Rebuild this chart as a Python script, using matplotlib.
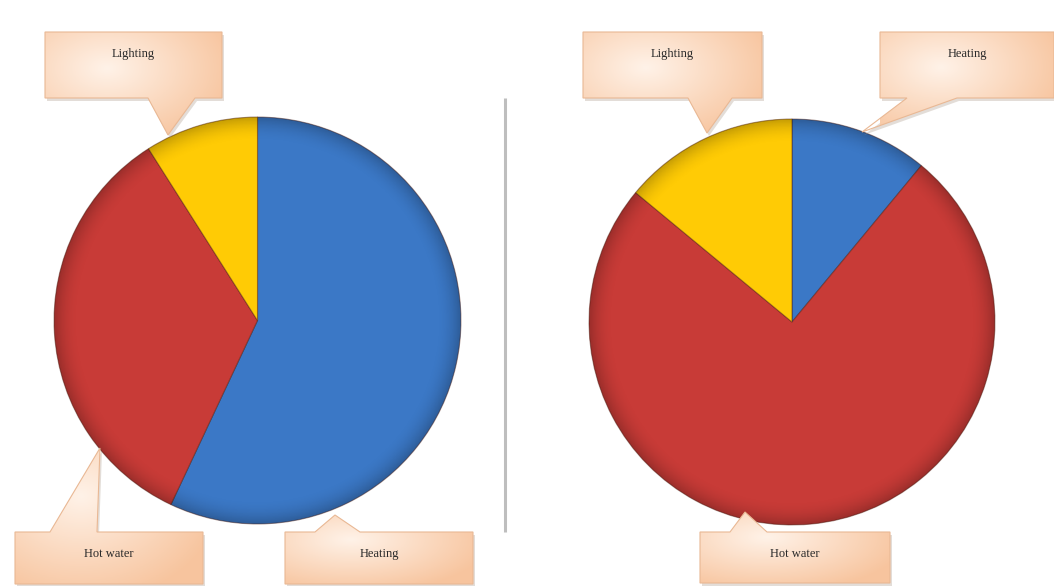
import numpy as np
import matplotlib
matplotlib.use("Agg")
import matplotlib.pyplot as plt
from matplotlib.patches import Polygon, Circle

# energy use shares, before (left) and after (right)
labels = ["Heating", "Hot water", "Lighting"]
before = [57, 34, 9]
after = [11, 75, 14]
colors = ["#3B78C6", "#C83B37", "#FFCB05"]

W, H = 1054, 586
fig = plt.figure(figsize=(W / 100, H / 100), dpi=100)
fig.patch.set_facecolor("white")


def pie_axes(x0, y0, size):
    # pixel box (top-left origin) -> figure fraction
    return fig.add_axes([x0 / W, (H - y0 - size) / H, size / W, size / H])


def shaded_pie(ax, values):
    wedges, _ = ax.pie(values, colors=colors, startangle=90, counterclock=False,
                       radius=1, wedgeprops=dict(edgecolor=(0.3, 0.1, 0.05, 0.45),
                                                 linewidth=0.8))
    # darker rim for a bevelled look
    n = 300
    g = np.linspace(-1, 1, n)
    xx, yy = np.meshgrid(g, g)
    r = np.sqrt(xx ** 2 + yy ** 2)
    img = np.zeros((n, n, 4))
    img[..., 3] = np.clip((r - 0.88) / 0.12, 0, 1) ** 2 * 0.22
    im = ax.imshow(img, extent=(-1, 1, -1, 1), origin="lower", zorder=3)
    im.set_clip_path(Circle((0, 0), 1, transform=ax.transData))
    ax.set_xlim(-1.01, 1.01)
    ax.set_ylim(-1.01, 1.01)
    ax.set_aspect("equal")
    ax.axis("off")
    return wedges


ax1 = pie_axes(52, 115, 411)
shaded_pie(ax1, before)
ax2 = pie_axes(587, 117, 410)
shaded_pie(ax2, after)

# overlay in pixel coordinates for the callouts and divider
ov = fig.add_axes([0, 0, 1, 1], zorder=5)
ov.set_xlim(0, W)
ov.set_ylim(H, 0)
ov.axis("off")
ov.patch.set_alpha(0)

ov.plot([505, 505], [98, 532], color="#BEBEBE", lw=2.2, solid_capstyle="butt")

# peach gradient used for callout fills
gx = np.linspace(0, 1, 120)
gy = np.linspace(0, 1, 60)
GX, GY = np.meshgrid(gx, gy)
d = np.clip(np.sqrt(((GX - 0.35) / 0.75) ** 2 + ((GY - 0.35) / 0.8) ** 2), 0, 1)
light = np.array([1.0, 0.95, 0.91])
dark = np.array([0.97, 0.77, 0.62])
grad = light[None, None, :] * (1 - d[..., None]) + dark[None, None, :] * d[..., None]


def callout(text, box, base, tip, text_y):
    x0, y0, x1, y1 = box
    bx0, bx1 = base
    if tip[1] > y1:
        pts = [(x0, y0), (x1, y0), (x1, y1), (bx1, y1), tip, (bx0, y1), (x0, y1)]
    else:
        pts = [(x0, y0), (bx0, y0), tip, (bx1, y0), (x1, y0), (x1, y1), (x0, y1)]
    # soft shadow
    sh = Polygon([(px + 2, py + 3) for px, py in pts], closed=True,
                 facecolor="#B0A090", alpha=0.35, edgecolor="none", zorder=1)
    ov.add_patch(sh)
    poly = Polygon(pts, closed=True, facecolor="none",
                   edgecolor="#E9B894", lw=0.8, zorder=3)
    ov.add_patch(poly)
    ys = [p[1] for p in pts]
    im = ov.imshow(grad, extent=(x0, x1, max(ys), min(ys)), aspect="auto", zorder=2)
    im.set_clip_path(poly)
    ov.text((x0 + x1) / 2, text_y, text, ha="center", va="center",
            family="Liberation Serif", fontsize=9, color="#2A2A2A", zorder=4)


callout("Lighting", (45, 32, 222, 98), (148, 195), (168, 135), 54)
callout("Hot water", (15, 532, 203, 584), (50, 97), (100, 448), 554)
callout("Heating", (285, 532, 473, 584), (315, 360), (335, 515), 554)
callout("Lighting", (583, 32, 762, 98), (688, 732), (707, 133), 54)
callout("Heating", (880, 32, 1054, 98), (907, 957), (862, 132), 54)
callout("Hot water", (700, 532, 890, 583), (730, 767), (745, 512), 554)

fig.savefig("out.png", dpi=100, facecolor="white")
